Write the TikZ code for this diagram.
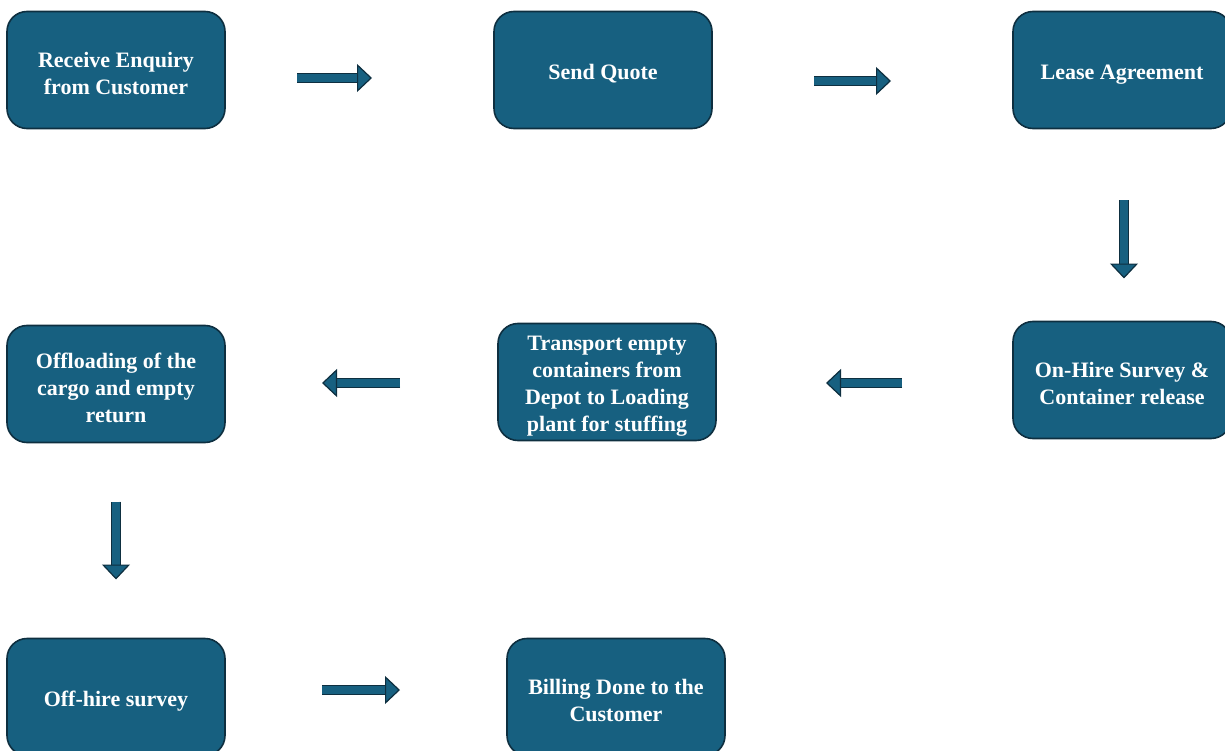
\documentclass[tikz,border=0pt]{standalone}
\usepackage{fontspec}
\setmainfont{Liberation Serif}
\usepackage{xcolor}
\usetikzlibrary{arrows.meta, positioning}

\definecolor{boxblue}{HTML}{176080}
\definecolor{boxedge}{HTML}{0E2F40}

\begin{document}
\begin{tikzpicture}[
    x=1pt, y=1pt,
    stage/.style={rectangle, rounded corners=20pt, draw=boxedge, line width=1.6pt, fill=boxblue,
        outer sep=0pt, text=white, minimum width=218pt, minimum height=117pt,
        text width=200pt, align=flush center,
        font=\fontsize{22}{27}\selectfont\bfseries,
        execute at begin node={\rule{0pt}{23pt}}},
    flow/.style={draw=boxedge, line width=1.2pt, double=boxblue, double distance=8.5pt,
        -{Triangle[width=28pt, length=15pt, fill=boxblue, line width=1.2pt]}}
]
\useasboundingbox (0,0) rectangle (1225,-751);

% Row 1
\node[stage] (enquiry) at (116,-70) {Receive Enquiry\\from Customer};
\node[stage, right=269pt of enquiry] (quote) {Send Quote};
\node[stage, right=301pt of quote] (lease) {Lease Agreement};

% Row 2
\node[stage, below=193pt of lease] (onhire) {On-Hire Survey \&\\Container release};
\node[stage, left=297pt of onhire, yshift=-2pt] (transport) {Transport empty\\containers from\\Depot to Loading\\plant for stuffing};
\node[stage, below=197pt of enquiry] (offload) {Offloading of the\\cargo and empty\\return};

% Row 3
\node[stage, below=196pt of offload] (offhire) {Off-hire survey};
\node[stage, right=282pt of offhire] (billing) {Billing Done to the\\Customer};

% Arrows
\draw[flow, shorten <=72pt, shorten >=122pt] ([yshift=-8pt]enquiry.east) -- ([yshift=-8pt]quote.west);
\draw[flow, shorten <=102pt, shorten >=122pt] ([yshift=-11pt]quote.east) -- ([yshift=-11pt]lease.west);
\draw[flow, shorten <=72pt, shorten >=43pt] ([xshift=2pt]lease.south) -- ([xshift=2pt]onhire.north);
\draw[flow, shorten <=111pt, shorten >=110pt] ([yshift=-3pt]onhire.west) -- ([yshift=-3pt]onhire.west -| transport.east);
\draw[flow, shorten <=98pt, shorten >=97pt] ([yshift=-1pt]transport.west) -- ([yshift=-1pt]transport.west -| offload.east);
\draw[flow, shorten <=59pt, shorten >=59pt] (offload.south) -- (offhire.north);
\draw[flow, shorten <=97pt, shorten >=107pt] ([yshift=7pt]offhire.east) -- ([yshift=7pt]billing.west);

\end{tikzpicture}
\end{document}
